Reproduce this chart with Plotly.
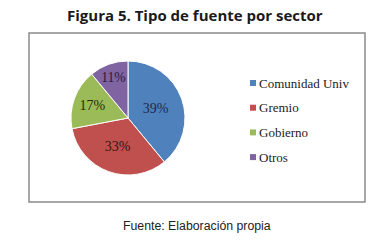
import plotly.graph_objects as go

labels = ["Comunidad Univ", "Gremio", "Gobierno", "Otros"]
values = [39, 33, 17, 11]
colors = ["#4F81BD", "#C0504D", "#9BBB59", "#8064A2"]
text_colors = ["#1c2b4f", "#3a1211", "#232d0d", "#271a3a"]

W, H = 385, 246


def px(x):
    return x / W


def py(y):
    return 1 - y / H


cx, cy, r = 128, 118, 57

fig = go.Figure(go.Pie(
    labels=labels,
    values=values,
    sort=False,
    direction="clockwise",
    rotation=0,
    marker=dict(colors=colors, line=dict(color="white", width=1)),
    texttemplate="%{value}%",
    textposition="inside",
    insidetextorientation="horizontal",
    textfont=dict(family="Liberation Serif", size=14, color=text_colors),
    domain=dict(x=[px(cx - r), px(cx + r)], y=[py(cy + r), py(cy - r)]),
    hoverinfo="skip",
    showlegend=False,
))

shapes = [dict(type="rect", xref="paper", yref="paper",
               x0=px(29), x1=px(365), y0=py(202), y1=py(33),
               line=dict(color="#8a8a8a", width=1.5))]
annotations = [
    dict(text="<b>Figura 5. Tipo de fuente por sector</b>", x=px(195), y=py(15),
         xref="paper", yref="paper", showarrow=False, xanchor="center", yanchor="middle",
         font=dict(family="Open Sans", size=15, color="#1a1a1a")),
    dict(text="Fuente: Elaboración propia", x=px(197), y=py(226),
         xref="paper", yref="paper", showarrow=False, xanchor="center", yanchor="middle",
         font=dict(family="Liberation Sans", size=12.3, color="#222")),
]

# legend
leg_y0, leg_dy = 83, 24.7
for i, (lab, col) in enumerate(zip(labels, colors)):
    yy = leg_y0 + i * leg_dy
    shapes.append(dict(type="rect", xref="paper", yref="paper",
                       x0=px(250), x1=px(256), y0=py(yy + 3), y1=py(yy - 3),
                       fillcolor=col, line=dict(width=0)))
    annotations.append(dict(text=lab, x=px(257), y=py(yy), xref="paper", yref="paper",
                            showarrow=False, xanchor="left", yanchor="middle",
                            font=dict(family="Liberation Serif", size=13, color="#222")))

fig.update_layout(
    width=W, height=H,
    margin=dict(l=0, r=0, t=0, b=0),
    paper_bgcolor="white",
    plot_bgcolor="white",
    showlegend=False,
    shapes=shapes,
    annotations=annotations,
)

fig.write_html("out.html", config={"displayModeBar": False},
               post_script="document.body.style.margin='0';")
